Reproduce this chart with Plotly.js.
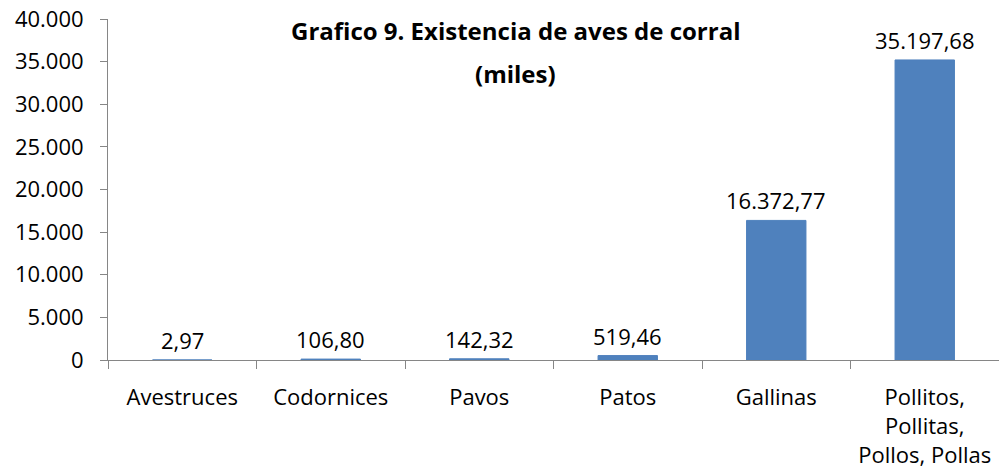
<!DOCTYPE html>
<html>
<head>
<meta charset="utf-8">
<script src="https://cdn.plot.ly/plotly-3.0.1.min.js"></script>
<style>html,body{margin:0;padding:0;background:#fff;}#chart{width:999px;height:468px;}</style>
</head>
<body>
<div id="chart"></div>
<script>
const categories = ["Avestruces", "Codornices", "Pavos", "Patos", "Gallinas", "Pollitos,<br>Pollitas,<br>Pollos, Pollas"];
const values = [2.97, 106.80, 142.32, 519.46, 16372.77, 35197.68];
const titleLine1 = "Grafico 9. Existencia de aves de corral";
const titleLine2 = "(miles)";
const yTicks = [0, 5000, 10000, 15000, 20000, 25000, 30000, 35000, 40000];

const font = "'Open Sans', 'Noto Sans', sans-serif";

function fmt(v) {
  const parts = v.toFixed(2).split(".");
  const intPart = parts[0].replace(/\B(?=(\d{3})+(?!\d))/g, ".");
  return intPart + "," + parts[1];
}

const trace = {
  type: "bar",
  x: categories,
  y: values,
  marker: {color: "#4F81BD", line: {color: "#4F81BD", width: 1}},
  width: 0.4,
  cliponaxis: false,
  hoverinfo: "none"
};

const labelAnnotations = categories.map((c, i) => ({
  x: c, y: values[i], xref: "x", yref: "y",
  text: fmt(values[i]), showarrow: false,
  yanchor: "bottom", yshift: 3,
  font: {family: font, size: 22, color: "#000"}
}));

const layout = {
  width: 999, height: 468,
  margin: {l: 108, r: 0, t: 19, b: 108},
  separators: ",.",
  paper_bgcolor: "#fff", plot_bgcolor: "#fff",
  showlegend: false,
  font: {family: font, size: 22, color: "#000"},
  xaxis: {
    type: "category",
    showline: true, linecolor: "#868686", linewidth: 1,
    ticks: "outside", tickson: "boundaries", ticklen: 8, tickcolor: "#868686",
    ticklabelstandoff: 18,
    showgrid: false, zeroline: false,
    tickfont: {family: font, size: 22, color: "#000"}
  },
  yaxis: {
    range: [0, 40000],
    tickvals: yTicks,
    tickformat: ",d",
    showline: true, linecolor: "#868686", linewidth: 1,
    ticks: "outside", ticklen: 7, tickcolor: "#868686",
    ticklabelstandoff: 12,
    showgrid: false, zeroline: false,
    tickfont: {family: font, size: 22, color: "#000"}
  },
  annotations: [
    {text: "<b>" + titleLine1 + "</b>", xref: "paper", yref: "paper", x: 0.457, y: 1.0, yanchor: "middle", yshift: -11, showarrow: false,
     font: {family: font, size: 24, color: "#000"}},
    {text: "<b>" + titleLine2 + "</b>", xref: "paper", yref: "paper", x: 0.457, y: 1.0, yanchor: "middle", yshift: -54, showarrow: false,
     font: {family: font, size: 24, color: "#000"}}
  ].concat(labelAnnotations)
};

Plotly.newPlot("chart", [trace], layout, {displayModeBar: false, staticPlot: true});
</script>
</body>
</html>
